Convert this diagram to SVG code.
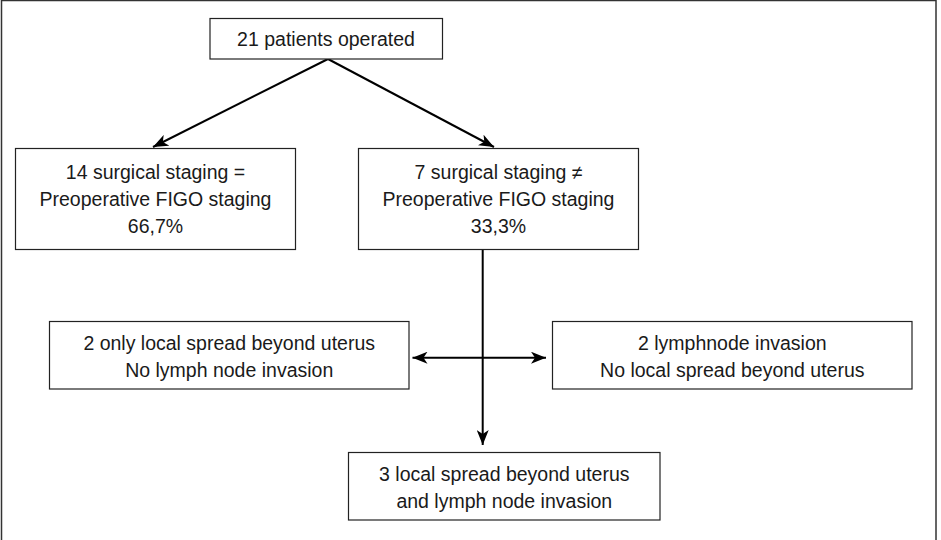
<svg xmlns="http://www.w3.org/2000/svg" width="941" height="540" viewBox="0 0 941 540">
<style>
.box{fill:#fff;stroke:#222;stroke-width:1.2}
.t{font-family:"Liberation Sans",Arial,sans-serif;font-size:19.5px;fill:#1a1a1a;text-anchor:middle}
.c{fill:none;stroke:#000;stroke-width:2}
</style>
<defs>
<marker id="ah" markerUnits="userSpaceOnUse" markerWidth="16" markerHeight="12" refX="15" refY="6" orient="auto">
<path d="M0,0 L15,6 L0,12 L4,6 z" fill="#000"/>
</marker>
</defs>
<rect x="1.5" y="0.5" width="934.5" height="560" fill="#fff" stroke="#333" stroke-width="1.5"/>
<g id="connectors">
<line class="c" x1="328" y1="59" x2="153" y2="147" marker-end="url(#ah)"/>
<line class="c" x1="328" y1="59" x2="494" y2="147" marker-end="url(#ah)"/>
<line class="c" x1="482.7" y1="249" x2="482.7" y2="445" marker-end="url(#ah)"/>
<line class="c" x1="482.7" y1="357.7" x2="412.5" y2="357.7" marker-end="url(#ah)"/>
<line class="c" x1="482.7" y1="357.7" x2="546" y2="357.7" marker-end="url(#ah)"/>
</g>
<g id="n1">
<rect class="box" x="210" y="18.5" width="232.5" height="40.5"/>
<text class="t" x="326" y="46">21 patients operated</text>
</g>
<g id="n2">
<rect class="box" x="15.5" y="148.5" width="280" height="101"/>
<text class="t" x="155.5" y="179">14 surgical staging =</text>
<text class="t" x="155.5" y="206">Preoperative FIGO staging</text>
<text class="t" x="155.5" y="233">66,7%</text>
</g>
<g id="n3">
<rect class="box" x="358.5" y="148.5" width="280" height="101"/>
<text class="t" x="498.5" y="179">7 surgical staging ≠</text>
<text class="t" x="498.5" y="206">Preoperative FIGO staging</text>
<text class="t" x="498.5" y="233">33,3%</text>
</g>
<g id="n4">
<rect class="box" x="49.5" y="321.5" width="359.5" height="67.5"/>
<text class="t" x="229.2" y="350">2 only local spread beyond uterus</text>
<text class="t" x="229.2" y="377">No lymph node invasion</text>
</g>
<g id="n5">
<rect class="box" x="552.5" y="321.5" width="359.5" height="67.5"/>
<text class="t" x="732.3" y="350">2 lymphnode invasion</text>
<text class="t" x="732.3" y="377">No local spread beyond uterus</text>
</g>
<g id="n6">
<rect class="box" x="348.5" y="452.5" width="311.5" height="67.5"/>
<text class="t" x="504.3" y="481">3 local spread beyond uterus</text>
<text class="t" x="504.3" y="507.5">and lymph node invasion</text>
</g>
</svg>
